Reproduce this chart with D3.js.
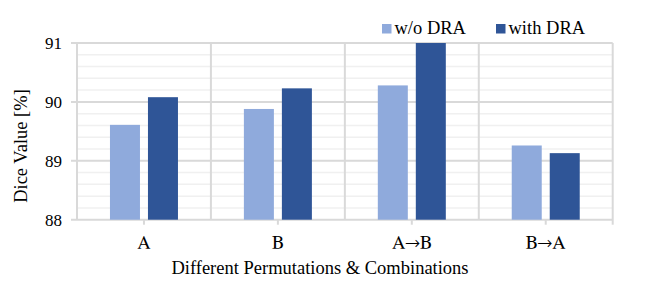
<!DOCTYPE html>
<html lang="en">
<head>
<meta charset="utf-8"/>
<title>Dice value chart</title>
<script src="https://d3js.org/d3.v7.min.js"></script>
<style>
  body { margin: 0; background: #fff; }
  svg text { font-family: 'Liberation Serif', 'Times New Roman', serif; fill: #000; }
  svg text.cat { font-family: 'FreeSerif', 'Liberation Serif', serif; }
</style>
</head>
<body>
<script>
// data
var categories = ["A", "B", "A\u2192B", "B\u2192A"];
var seriesNames = ["w/o DRA", "with DRA"];
var woDRA = [89.61, 89.88, 90.28, 89.26];
var withDRA = [90.08, 90.23, 91.0, 89.13];
var yTicks = [88, 89, 90, 91];
var colors = ["#8faadc", "#2f5597"];

var width = 664, height = 286;
var margin = {left: 77, right: 51.3, top: 43, bottom: 66.3};

var svg = d3.select("body").append("svg")
    .attr("width", width)
    .attr("height", height);

var x0 = d3.scaleBand()
    .domain(categories)
    .range([margin.left, width - margin.right]);

var y = d3.scaleLinear()
    .domain([88, 91])
    .range([height - margin.bottom, margin.top]);

var groupW = 68;
var x1 = d3.scaleBand()
    .domain(seriesNames)
    .range([0, groupW])
    .paddingInner(0.2105);

// minor gridlines
var minor = d3.range(88.2, 91, 0.2).filter(function(v) { return Math.abs(v - Math.round(v)) > 0.01; });
svg.append("g").selectAll("line")
    .data(minor)
    .enter().append("line")
    .attr("x1", margin.left).attr("x2", width - margin.right)
    .attr("y1", function(d) { return y(d); })
    .attr("y2", function(d) { return y(d); })
    .attr("stroke", "#f0f0f0")
    .attr("stroke-width", 1.5);

// major gridlines
svg.append("g").selectAll("line")
    .data(yTicks)
    .enter().append("line")
    .attr("x1", margin.left - 6).attr("x2", width - margin.right)
    .attr("y1", function(d) { return y(d); })
    .attr("y2", function(d) { return y(d); })
    .attr("stroke", "#d9d9d9")
    .attr("stroke-width", 2);

// vertical category separators
var bounds = categories.map(function(c) { return x0(c); }).concat([x0.range()[1]]);
svg.append("g").selectAll("line")
    .data(bounds)
    .enter().append("line")
    .attr("x1", function(d) { return d; })
    .attr("x2", function(d) { return d; })
    .attr("y1", y(91))
    .attr("y2", function(d, i) { return i === bounds.length - 1 ? y(88) + 5 : y(88); })
    .attr("stroke", "#d9d9d9")
    .attr("stroke-width", 2);

// bottom tick marks at category centers
svg.append("g").selectAll("line")
    .data(categories)
    .enter().append("line")
    .attr("x1", function(d) { return x0(d) + x0.bandwidth() / 2; })
    .attr("x2", function(d) { return x0(d) + x0.bandwidth() / 2; })
    .attr("y1", y(88))
    .attr("y2", y(88) + 5)
    .attr("stroke", "#d9d9d9")
    .attr("stroke-width", 2);

// bars
var rows = categories.map(function(c, i) {
    return {cat: c, vals: [{s: seriesNames[0], v: woDRA[i]}, {s: seriesNames[1], v: withDRA[i]}]};
});
var off = (x0.bandwidth() - groupW) / 2;
svg.append("g").selectAll("g")
    .data(rows)
    .enter().append("g")
    .attr("transform", function(d) { return "translate(" + (x0(d.cat) + off) + ",0)"; })
    .selectAll("rect")
    .data(function(d) { return d.vals; })
    .enter().append("rect")
    .attr("x", function(d) { return x1(d.s); })
    .attr("width", x1.bandwidth())
    .attr("y", function(d) { return y(Math.min(d.v, 91)); })
    .attr("height", function(d) { return y(88) - y(Math.min(d.v, 91)); })
    .attr("fill", function(d, i) { return colors[i]; });

// y tick labels
svg.append("g").selectAll("text")
    .data(yTicks)
    .enter().append("text")
    .attr("x", 62)
    .attr("y", function(d) { return y(d); })
    .attr("dy", "0.35em")
    .attr("text-anchor", "end")
    .style("font-size", "17px")
    .text(function(d) { return d; });

// x labels
svg.append("g").selectAll("text")
    .data(categories)
    .enter().append("text")
    .attr("class", "cat")
    .attr("x", function(d) { return x0(d) + x0.bandwidth() / 2; })
    .attr("y", 248)
    .attr("text-anchor", "middle")
    .style("font-size", "18.5px")
    .text(function(d) { return d; });

// axis titles
svg.append("text")
    .attr("x", 320)
    .attr("y", 274)
    .attr("text-anchor", "middle")
    .style("font-size", "18.5px")
    .text("Different Permutations & Combinations");

svg.append("text")
    .attr("transform", "translate(27,146) rotate(-90)")
    .attr("text-anchor", "middle")
    .style("font-size", "18.5px")
    .text("Dice Value [%]");

// legend
var legendX = [382, 496];
var lg = svg.append("g").selectAll("g")
    .data(seriesNames)
    .enter().append("g")
    .attr("transform", function(d, i) { return "translate(" + legendX[i] + ",24)"; });
lg.append("rect")
    .attr("width", 9.5).attr("height", 9.5)
    .attr("fill", function(d, i) { return colors[i]; });
lg.append("text")
    .attr("x", 12.5)
    .attr("y", 9.5)
    .style("font-size", "18.5px")
    .text(function(d) { return d; });
</script>
</body>
</html>
